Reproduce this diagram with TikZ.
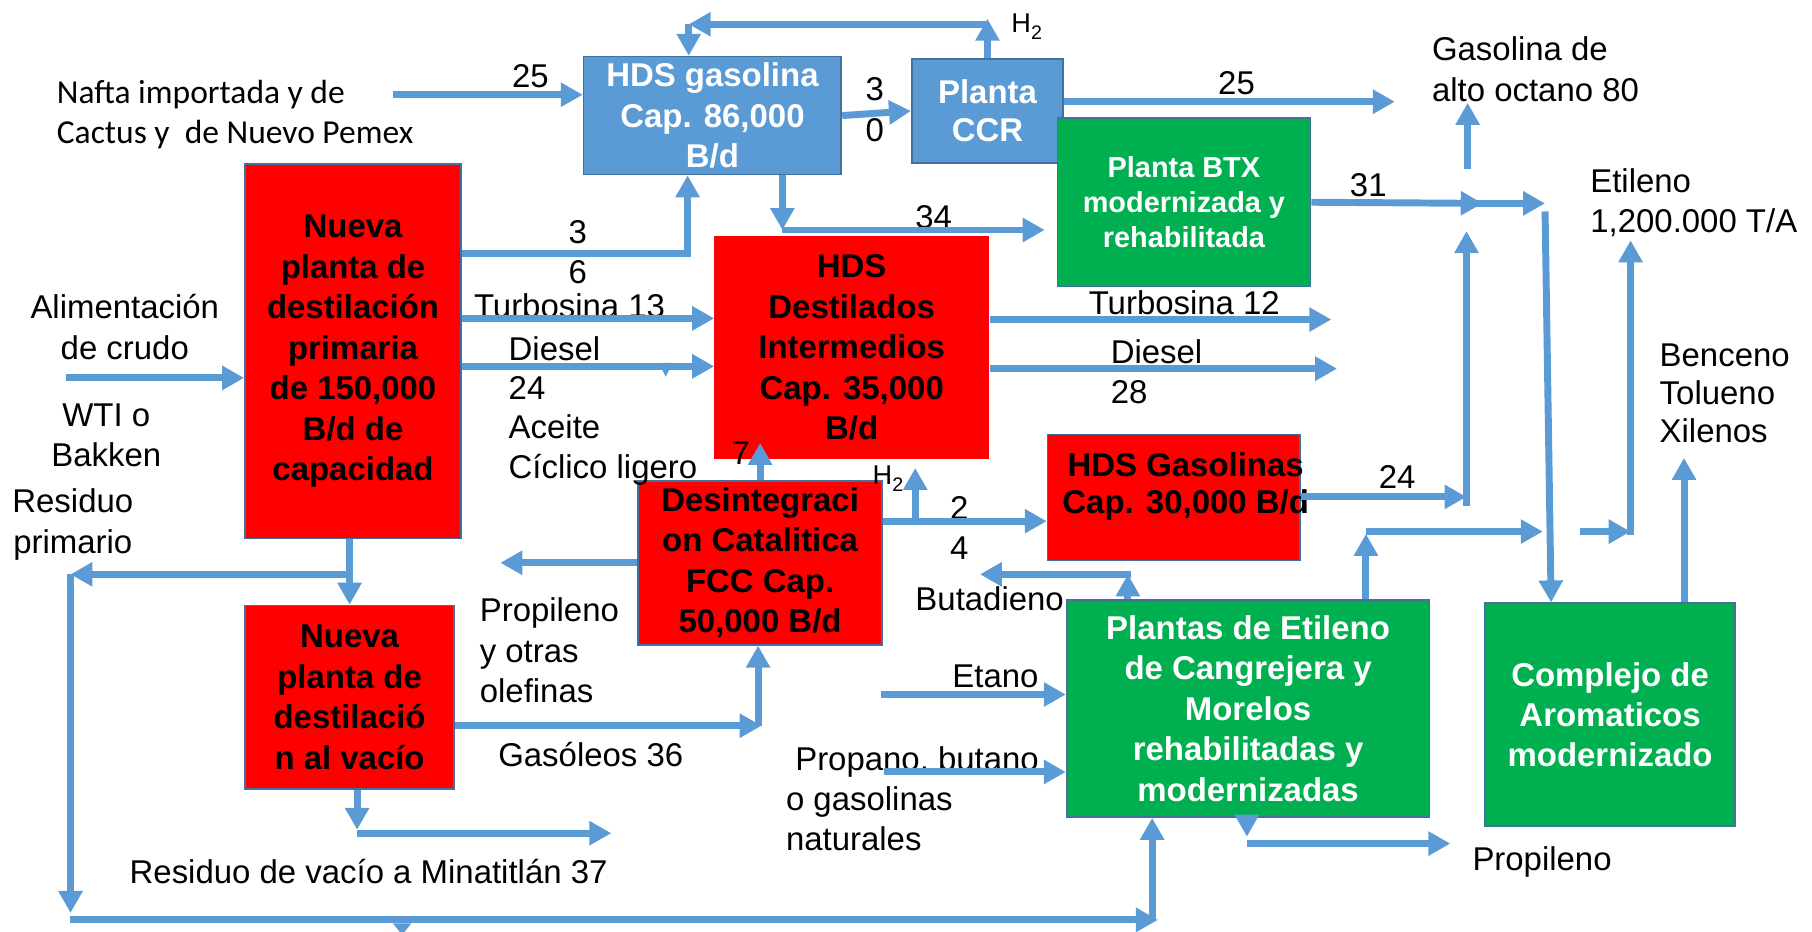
\documentclass[tikz,border=0pt]{standalone}
\usepackage{fontspec}
\setmainfont{Liberation Sans}
\newfontfamily\calibri{Carlito}
\usetikzlibrary{arrows.meta}
\definecolor{flowblue}{HTML}{5B9BD5}
\definecolor{edgeblue}{HTML}{41719C}
\definecolor{plantred}{HTML}{FF0000}
\definecolor{plantgreen}{HTML}{00B050}
\newcommand{\htwo}{H\raisebox{-0.28em}{\fontsize{17}{17}\selectfont 2}}
\begin{document}
\begin{tikzpicture}[x=1pt,y=-1pt,
  flow/.style={draw=flowblue,line width=6pt,-{Triangle[width=20pt,length=19pt]}},
  plantbox/.style={draw=edgeblue,line width=1.5pt,inner sep=0pt,align=center,font=\bfseries\fontsize{28.5}{35}\selectfont},
  bluebox/.style={plantbox,fill=flowblue,text=white},
  redbox/.style={plantbox,fill=plantred,text=black},
  greenbox/.style={plantbox,fill=plantgreen,text=white},
  lbl/.style={inner sep=0pt,align=left,font=\fontsize{28.5}{35}\selectfont},
  hlbl/.style={inner sep=0pt,anchor=base west,font=\fontsize{23.5}{26}\selectfont}]
\useasboundingbox (0,0) rectangle (1568,806);
\node[bluebox,minimum width=223pt,minimum height=102pt] (hdsgasolina) at (616.5,100) {HDS gasolina\\Cap. 86,000\\B/d};
\node[bluebox,minimum width=131pt,minimum height=90pt,font=\bfseries\fontsize{28.5}{33}\selectfont] (ccr) at (854.5,96) {Planta\\CCR};
\node[greenbox,minimum width=219pt,minimum height=146pt,font=\bfseries\fontsize{25}{30.5}\selectfont] (btx) at (1024.5,175) {Planta BTX\\modernizada y\\rehabilitada};
\node[redbox,minimum width=187pt,minimum height=324pt] (primaria) at (305.5,304) {Nueva\\planta de\\destilación\\primaria\\de 150,000\\B/d de\\capacidad};
\node[redbox,draw=none,minimum width=238pt,minimum height=193.5pt] (destilados) at (737,300.75) {HDS\\Destilados\\Intermedios\\Cap. 35,000\\B/d};
\node[redbox,minimum width=211.5pt,minimum height=142pt] (fcc) at (657.75,487) {Desintegraci\\on Catalitica\\FCC Cap.\\50,000 B/d};
\node[redbox,minimum width=218.5pt,minimum height=109pt] (hdsgasolinas) at (1015.75,430.5) {};
\node[inner sep=0pt,align=center,font=\bfseries\fontsize{28.5}{32}\selectfont] (hdsgasolinas-txt) at (1026,421) {HDS Gasolinas\\Cap. 30,000 B/d};
\node[redbox,minimum width=181pt,minimum height=159pt] (vacio) at (302.5,603.5) {Nueva\\planta de\\destilació\\n al vacío};
\node[greenbox,minimum width=314pt,minimum height=188pt] (etileno) at (1080,613) {Plantas de Etileno\\de Cangrejera y\\Morelos\\rehabilitadas y\\modernizadas};
\node[greenbox,minimum width=216.5pt,minimum height=193pt] (aromaticos) at (1393.25,618.5) {Complejo de\\Aromaticos\\modernizado};

\node[lbl,anchor=west,font=\calibri\fontsize{29}{34.6}\selectfont] (nafta) at (49,99.5) {Nafta importada y de\\Cactus y~~de Nuevo Pemex};
\node[lbl] (nafta-25) at (459,66) {25};
\node[lbl,align=center,font=\fontsize{28.5}{36}\selectfont] (ccr-30) at (757,95) {3\\0};
\node[hlbl] (ccr-h2) at (875,28) {\htwo};
\node[lbl,anchor=west] (gasolina-out) at (1239,60) {Gasolina de\\alto octano 80};
\node[lbl] (ccr-25) at (1070,72) {25};
\node[lbl] (btx-31) at (1184,160) {31};
\node[lbl] (gasolina-34) at (808,187.5) {34};
\node[lbl,align=center,font=\fontsize{28.5}{34.5}\selectfont] (primaria-36) at (500,218.5) {3\\6};
\node[lbl,anchor=west] (turbosina13) at (410,264.5) {Turbosina 13};
\node[lbl,anchor=west,font=\fontsize{28.5}{34}\selectfont] (diesel24) at (440,355.5) {Diesel\\24\\Aceite\\Cíclico ligero};
\node[lbl,align=center] (crudo) at (108,283) {Alimentación\\de crudo};
\node[lbl,align=center] (wti) at (92,376.5) {WTI o\\Bakken};
\node[lbl,align=center] (residuo) at (63,454) {Residuo\\primario};
\node[lbl,anchor=west] (turbosina12) at (942,262) {Turbosina 12};
\node[lbl,anchor=west] (diesel28) at (961,321.5) {Diesel\\28};
\node[lbl,anchor=west,font=\fontsize{28.5}{34}\selectfont] (etileno-out) at (1376,175.5) {Etileno\\1,200.000 T/A};
\node[lbl,anchor=west,font=\fontsize{28.5}{33}\selectfont] (btx-out) at (1436,340.5) {Benceno\\Tolueno\\Xilenos};
\node[lbl] (hdsgasolinas-24) at (1209,412.5) {24};
\node[lbl] (fcc-7) at (641,392) {7};
\node[hlbl] (fcc-h2) at (755,419) {\htwo};
\node[lbl,align=center,font=\fontsize{28.5}{34.5}\selectfont] (fcc-24) at (830,457) {2\\4};
\node[lbl,anchor=west] (butadieno) at (792,518) {Butadieno};
\node[lbl,anchor=west] (olefinas) at (415,563) {Propileno\\y otras\\olefinas};
\node[lbl,anchor=west] (etano) at (824,585.5) {Etano};
\node[lbl,anchor=west,font=\fontsize{28.5}{34.6}\selectfont] (propano) at (680,690.8) {\hspace*{8pt}Propano, butano\\o gasolinas\\naturales};
\node[lbl,anchor=west] (gasoleos) at (431,653) {Gasóleos 36};
\node[lbl,anchor=west] (residuo-vacio) at (112,754) {Residuo de vacío a Minatitlán 37};
\node[lbl,anchor=west] (propileno) at (1274,746) {Propileno};

\coordinate (nafta-in) at (340,82);
\draw[flow] (nafta-in) -- (hdsgasolina.west |- nafta-in);
\draw[flow] (hdsgasolina.east) -- (ccr.west);
\draw[flow] (ccr.north) -- ++(0,-34);
\coordinate (h2-loop) at (596,21);
\draw[flow] (ccr.north |- h2-loop) -- (h2-loop);
\draw[flow] (h2-loop) -- (h2-loop |- hdsgasolina.north);
\coordinate (gas-out) at (1207,88);
\draw[flow] (ccr.east |- gas-out) -- (gas-out);
\coordinate (to-btx) at (677,199);
\draw[flow] (hdsgasolina.south -| to-btx) -- (to-btx);
\coordinate (btx-in) at (904,199);
\draw[flow] (to-btx) -- (btx-in);
\coordinate (to-hdsgasolina) at (595,219);
\draw[flow] (primaria.east |- to-hdsgasolina) -- (to-hdsgasolina) -- (to-hdsgasolina |- hdsgasolina.south);
\coordinate (turb13-in) at (618,275.5);
\draw[flow] (primaria.east |- turb13-in) -- (turb13-in);
\coordinate (diesel24-in) at (618,317);
\draw[flow] (primaria.east |- diesel24-in) -- (diesel24-in);
\fill[flowblue] (570,314) -- (582,314) -- (576,326) -- cycle;
\coordinate (crudo-in) at (57,327);
\draw[flow] (crudo-in) -- (primaria.west |- crudo-in);
\draw[flow] (vacio.north |- primaria.south) -- (vacio.north);
\coordinate (residuo-in) at (61,497);
\draw[flow] (vacio.north |- residuo-in) -- (residuo-in);
\coordinate (residuo-down) at (61,790);
\draw[flow] (residuo-in) -- (residuo-down);
\coordinate (residuo-bottom) at (61,796);
\coordinate (etileno-feed) at (997,796);
\draw[flow] (residuo-bottom) -- ([xshift=5pt]etileno-feed);
\draw[flow] (etileno-feed) -- (etileno-feed |- etileno.south);
\fill[flowblue] (340,799) -- (356,799) -- (348,809) -- cycle;
\coordinate (vacio-down) at (309,718);
\draw[flow] (vacio.south -| vacio-down) -- (vacio-down);
\coordinate (minatitlan) at (529,721);
\draw[flow] (vacio-down |- minatitlan) -- (minatitlan);
\coordinate (gasoleos-up) at (656,628);
\draw[flow] (vacio.east |- gasoleos-up) -- ([xshift=3pt]gasoleos-up);
\draw[flow] (gasoleos-up) -- (gasoleos-up |- fcc.south);
\coordinate (olefinas-out) at (433,487);
\draw[flow] (fcc.west) -- (olefinas-out);
\draw[flow] (fcc.north) -- ++(0,-32);
\coordinate (fcc-split) at (792,451);
\draw[flow] (fcc.east |- fcc-split) -- (hdsgasolinas.west |- fcc-split);
\draw[flow] (fcc-split) -- ++(0,-46);
\coordinate (turb12-out) at (1152,276.5);
\draw[flow] (destilados.east |- turb12-out) -- (turb12-out);
\coordinate (diesel28-out) at (1157,319);
\draw[flow] (destilados.east |- diesel28-out) -- (diesel28-out);
\coordinate (gasolinas-24) at (1269,430);
\draw[flow] (hdsgasolinas.east |- gasolinas-24) -- (gasolinas-24);
\coordinate (mix-in) at (1269,200);
\draw[flow] ([yshift=-8pt]gasolinas-24) -- (mix-in);
\coordinate (mix) at (1283,176);
\draw[flow] (btx.east) -- (mix);
\coordinate (aromaticos-feed) at (1337,176);
\draw[flow] ([xshift=-6pt]mix) -- (aromaticos-feed);
\coordinate (octano-up) at (1270,146);
\draw[flow] (octano-up) -- ++(0,-57);
\draw[flow] ([yshift=-7pt]aromaticos-feed) -- ([xshift=-51pt]aromaticos.north);
\draw[flow] ([xshift=64pt]aromaticos.north) -- ++(0,-125);
\coordinate (etileno-up) at (1411,463);
\draw[flow] (etileno-up) -- ++(0,-255);
\coordinate (etileno-join) at (1367,460);
\draw[flow] (etileno-join) -- (etileno-up |- etileno-join);
\coordinate (etileno-riser) at (1182,460);
\draw[flow] (etileno.north -| etileno-riser) -- ([yshift=-2pt]etileno-riser);
\coordinate (etileno-riser-end) at (1335,460);
\draw[flow] (etileno-riser) -- (etileno-riser-end);
\coordinate (butadieno-split) at (976,497);
\draw[flow] (etileno.north -| butadieno-split) -- (butadieno-split);
\coordinate (butadieno-out) at (848,497);
\draw[flow] ([xshift=3pt]butadieno-split) -- (butadieno-out);
\coordinate (etano-in) at (762,601);
\draw[flow] (etano-in) -- (etileno.west |- etano-in);
\coordinate (propano-in) at (765,668);
\draw[flow] (propano-in) -- (etileno.west |- propano-in);
\coordinate (propileno-down) at (1079,724);
\draw[flow] (etileno.south -| propileno-down) -- (propileno-down);
\coordinate (propileno-out) at (1255,730);
\draw[flow] (propileno-down |- propileno-out) -- (propileno-out);
\end{tikzpicture}
\end{document}
